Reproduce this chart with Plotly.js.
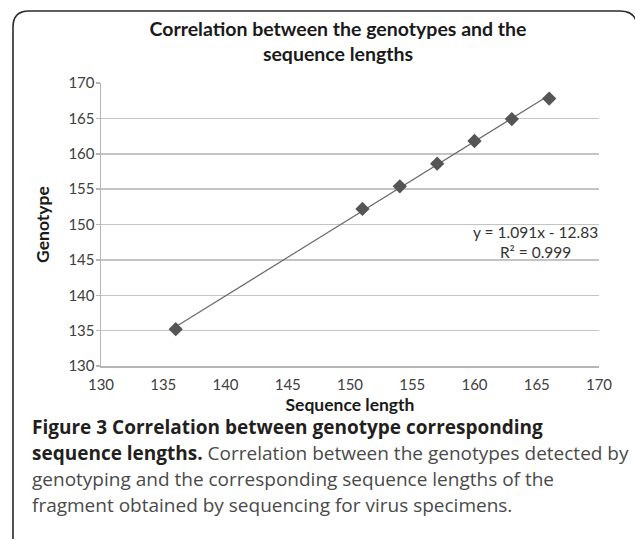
<!DOCTYPE html>
<html>
<head>
<meta charset="utf-8">
<script src="https://cdn.plot.ly/plotly-3.0.1.min.js"></script>
<style>
html,body{margin:0;padding:0;background:#fff;}
#chart{width:635px;height:539px;}
</style>
</head>
<body>
<div id="chart"></div>
<script>
// Data
const seqLength = [136, 151, 154, 157, 160, 163, 166];
const genotype  = [135.2, 152.2, 155.4, 158.6, 161.8, 164.9, 167.8];
const xTicks = [130, 135, 140, 145, 150, 155, 160, 165, 170];
const yTicks = [130, 135, 140, 145, 150, 155, 160, 165, 170];
const trendSlope = 1.091;
const trendIntercept = -12.83;
const chartTitle = "Correlation between the genotypes and the<br>sequence lengths";
const xTitle = "Sequence length";
const yTitle = "Genotype";
const eqText = "y = 1.091x - 12.83<br>R² = 0.999";
const captionLines = [
  "<b>Figure 3 Correlation between genotype corresponding</b>",
  "<b>sequence lengths.</b> <span style='color:#4a4a4a'>Correlation between the genotypes detected by</span>",
  "<span style='color:#4a4a4a'>genotyping and the corresponding sequence lengths of the</span>",
  "<span style='color:#4a4a4a'>fragment obtained by sequencing for virus specimens.</span>"
];

// layout geometry (pixels)
const W = 635, H = 539;
const L = 101, R = 599, T = 83, B = 366;
const px2x = p => (p - L) / (R - L);
const px2y = p => (B - p) / (B - T);

const xmin = Math.min(...seqLength), xmax = Math.max(...seqLength);
const trendX = [xmin, xmax];
const trendY = trendX.map(v => trendSlope * v + trendIntercept);

const chartFont = "Lato, 'Open Sans', sans-serif";
const capFont = "'Open Sans', 'Noto Sans', sans-serif";

const traces = [
  {
    x: trendX, y: trendY, type: 'scatter', mode: 'lines',
    line: {color: '#6a6a6a', width: 1.2}, hoverinfo: 'skip', showlegend: false
  },
  {
    x: seqLength, y: genotype, type: 'scatter', mode: 'markers',
    marker: {symbol: 'diamond', size: 11, color: '#555555', line: {width: 0}},
    showlegend: false
  }
];

// frame path (paper coords)
const fr = [
  ['M', 13, 545], ['L', 13, 27], ['Q', 13, 11, 29, 11], ['L', 620, 11],
  ['Q', 637, 11, 637, 28], ['L', 637, 545]
];
const framePath = fr.map(s => {
  let out = s[0];
  for (let i = 1; i < s.length; i += 2) {
    out += ' ' + px2x(s[i]).toFixed(5) + ',' + px2y(s[i+1]).toFixed(5);
  }
  return out;
}).join(' ');

const capY = [427, 453, 479, 505];
const annotations = captionLines.map((t, i) => ({
  xref: 'paper', yref: 'paper', x: px2x(30), y: px2y(capY[i]),
  xanchor: 'left', yanchor: 'middle', showarrow: false, align: 'left',
  text: t, font: {family: capFont, size: 19, color: '#231f20'}
}));
annotations.push({
  xref: 'x', yref: 'y', x: 164.9, y: 147.5, xanchor: 'center', yanchor: 'middle',
  showarrow: false, align: 'center', text: eqText,
  font: {family: chartFont, size: 15.5, color: '#333'}
});

const layout = {
  width: W, height: H,
  margin: {l: L, r: W - R, t: T, b: H - B, pad: 0},
  paper_bgcolor: '#fff', plot_bgcolor: '#fff',
  title: {
    text: chartTitle, xref: 'paper', x: px2x(338), xanchor: 'center',
    yref: 'container', y: 1 - 36 / H, yanchor: 'middle',
    font: {family: chartFont, size: 19.5, color: '#1a1a1a', weight: 'bold'}
  },
  xaxis: {
    range: [130, 170], tickvals: xTicks, ticktext: xTicks.map(String),
    showgrid: false, zeroline: false,
    showline: true, linecolor: '#b5b5b5', linewidth: 1.5,
    ticks: '', ticklabelstandoff: 4,
    tickfont: {family: chartFont, size: 15, color: '#404040'},
    title: {text: xTitle, standoff: 7, font: {family: chartFont, size: 17.5, color: '#1a1a1a', weight: 'bold'}},
    fixedrange: true
  },
  yaxis: {
    range: [130, 170], tickvals: yTicks, ticktext: yTicks.map(String),
    showgrid: true, gridcolor: '#c4c4c4', gridwidth: 1.5, zeroline: false,
    showline: true, linecolor: '#b5b5b5', linewidth: 1.5,
    ticks: 'outside', ticklen: 4, tickcolor: '#b5b5b5', tickwidth: 1.5,
    ticklabelstandoff: -2,
    tickfont: {family: chartFont, size: 15, color: '#404040'},
    title: {text: yTitle, standoff: 14, font: {family: chartFont, size: 17.5, color: '#1a1a1a', weight: 'bold'}},
    fixedrange: true
  },
  shapes: [{
    type: 'path', xref: 'paper', yref: 'paper', path: framePath,
    line: {color: '#2a2a2a', width: 1.6}, layer: 'above'
  }],
  annotations: annotations,
  showlegend: false
};

Plotly.newPlot('chart', traces, layout, {displayModeBar: false, staticPlot: true});
</script>
</body>
</html>
